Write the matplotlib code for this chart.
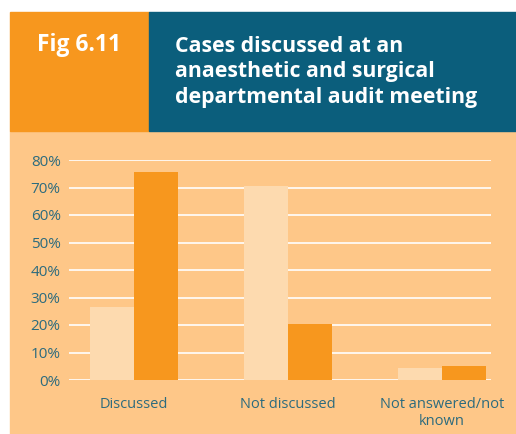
import matplotlib
matplotlib.use("Agg")
import matplotlib.pyplot as plt
from matplotlib.patches import Rectangle
import numpy as np

plt.rcParams["font.family"] = ["Open Sans", "DejaVu Sans"]

categories = ["Discussed", "Not discussed", "Not answered/not\nknown"]
series_light = [26.5, 70.5, 4.4]
series_dark = [75.5, 20.4, 5.1]
yticks = [0, 10, 20, 30, 40, 50, 60, 70, 80]

bg = "#FEC788"
light = "#FDDAAF"
dark = "#F7971E"
blue = "#0B5E7C"
teal = "#2C6B7E"

W, H = 516, 434
fig = plt.figure(figsize=(W / 100, H / 100), dpi=100)
fig.patch.set_facecolor("white")

# header and panel backgrounds
for xy, w, h, c in [((10 / W, 0), 1 - 10 / W, 1 - 131 / H, bg),
                    ((10 / W, 1 - 131 / H), 139 / W, 119 / H, dark),
                    ((149 / W, 1 - 131 / H), 1 - 149 / W, 119 / H, blue)]:
    fig.add_artist(Rectangle(xy, w, h, transform=fig.transFigure,
                             color=c, zorder=-5))
fig.text(37 / W, 1 - 45 / H, "Fig 6.11", color="white", fontsize=16.5,
         fontweight="bold", va="center", ha="left")
fig.text(175 / W, 1 - 72 / H,
         "Cases discussed at an\nanaesthetic and surgical\ndepartmental audit meeting",
         color="white", fontsize=15.3, fontweight="bold", va="center", ha="left",
         linespacing=1.3)

ax = fig.add_axes([69 / W, 1 - 380 / H, (491 - 69) / W, (380 - 160) / H])
ax.set_zorder(5)
ax.set_facecolor(bg)
x = np.arange(len(categories))
w = 0.286
ax.bar(x - w / 2, series_light, w, color=light, zorder=3)
ax.bar(x + w / 2, series_dark, w, color=dark, zorder=3)
ax.set_xlim(-0.42, 2.32)
ax.set_ylim(0, 80)
ax.set_yticks(yticks)
ax.set_yticklabels([f"{t}%" for t in yticks])
ax.set_xticks(x)
ax.set_xticklabels(categories)
ax.grid(axis="y", color="white", linewidth=1.2, zorder=1)
ax.set_axisbelow(True)
for s in ax.spines.values():
    s.set_visible(False)
ax.tick_params(length=0, colors=teal, labelsize=10.5)
ax.tick_params(axis="y", labelsize=11, pad=6)
ax.tick_params(axis="x", pad=12)

fig.savefig("out.png", dpi=100, facecolor=fig.get_facecolor())
